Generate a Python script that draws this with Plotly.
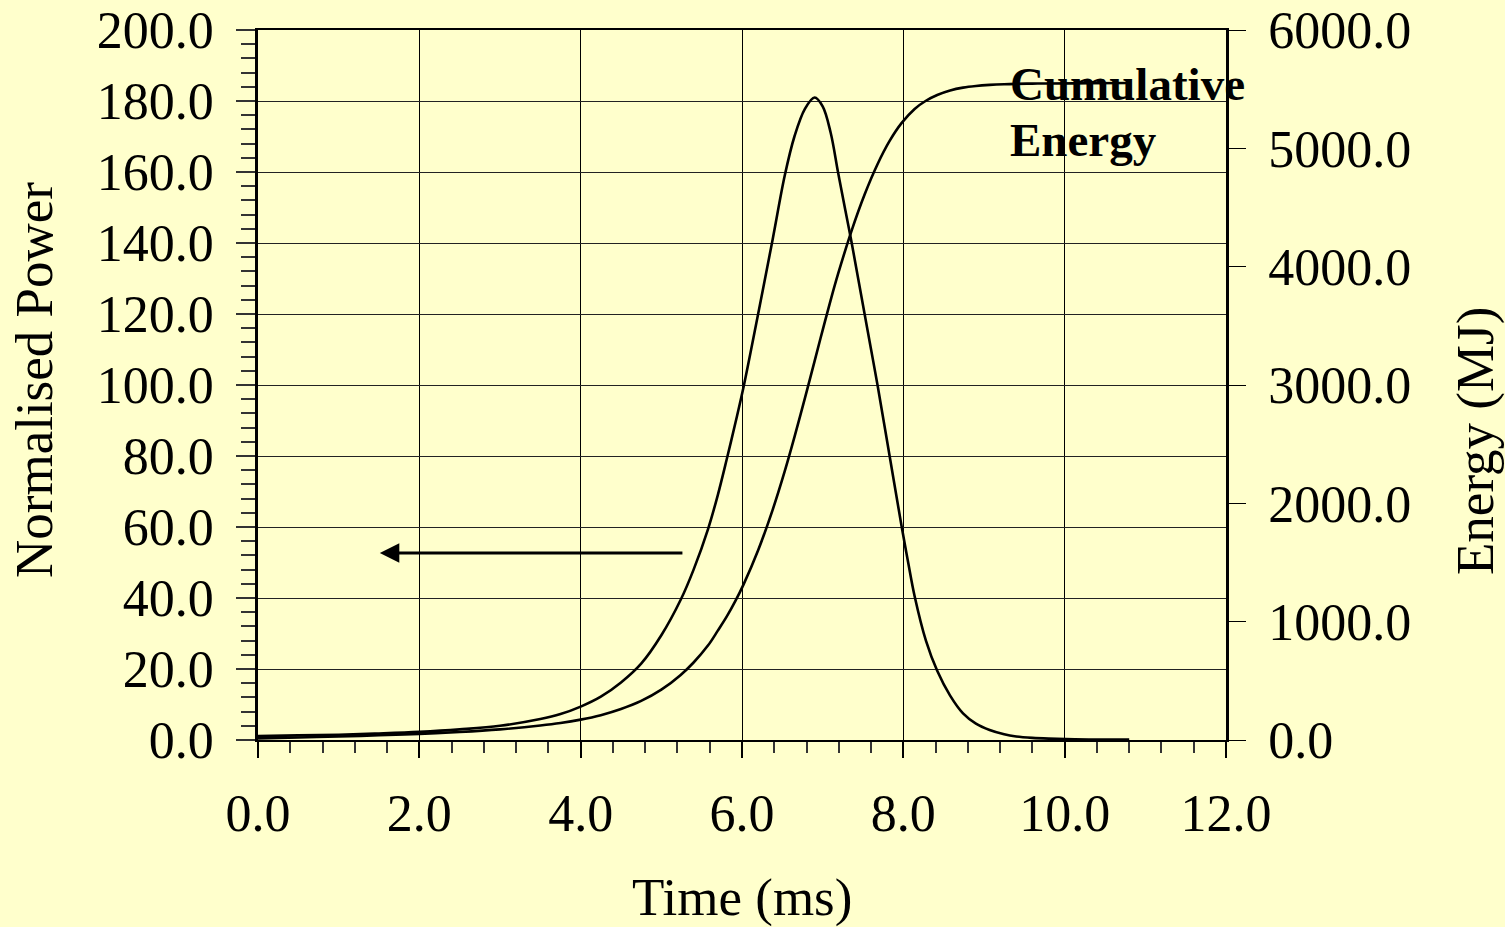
import plotly.graph_objects as go

# ---- data ----
time_power = [0.0, 0.5, 1.0, 1.5, 2.0, 2.5, 3.0, 3.5, 3.75, 4.0, 4.25, 4.5, 4.75, 5.0, 5.24,
              5.4, 5.58, 5.7, 5.81, 5.92, 6.02, 6.2, 6.38, 6.53, 6.65, 6.78, 6.9, 7.0, 7.1,
              7.19, 7.28, 7.36, 7.44, 7.52, 7.6, 7.68, 7.83, 7.98, 8.06, 8.14, 8.28, 8.42,
              8.58, 8.74, 8.9, 9.07, 9.25, 9.4, 9.6, 9.8, 10.3, 10.8]
power = [1.1, 1.3, 1.5, 1.85, 2.3, 3.0, 4.0, 5.9, 7.3, 9.4, 12.2, 16.2, 21.5, 29.5, 39.5,
         48.0, 59.5, 69.0, 79.0, 89.5, 99.5, 120.0, 141.0, 159.0, 170.0, 177.8, 181.0, 178.5, 171.0,
         160.0, 149.4, 140.0, 130.0, 120.0, 110.0, 100.0, 80.0, 60.0, 50.0, 40.5, 28.0, 19.5,
         12.5, 7.5, 4.6, 2.8, 1.6, 1.0, 0.6, 0.4, 0.15, 0.1]

time_energy = [0.0, 0.5, 1.0, 1.5, 2.0, 2.5, 3.0, 3.5, 3.75, 4.0, 4.25, 4.5, 4.75, 5.0, 5.24,
               5.4, 5.58, 5.7, 5.81, 5.92, 6.02, 6.2, 6.38, 6.53, 6.65, 6.78, 6.9, 7.0, 7.1,
               7.19, 7.36, 7.52, 7.68, 7.83, 7.98, 8.14, 8.28, 8.42, 8.58, 8.74, 8.9, 9.07,
               9.25, 9.4, 9.6, 9.8, 10.3, 10.8]
energy = [14, 21, 30, 40, 52, 68, 90, 122, 143, 172, 210, 262, 330, 425, 550,
          655, 800, 924, 1042, 1177, 1315, 1603, 1945, 2272, 2560, 2889, 3202, 3464, 3719,
          3936, 4307, 4610, 4866, 5063, 5215, 5333, 5402, 5451, 5489, 5513, 5527, 5536,
          5542, 5545, 5547, 5548, 5550, 5552]

x_ticks = [0, 2, 4, 6, 8, 10, 12]
y_ticks = [0, 20, 40, 60, 80, 100, 120, 140, 160, 180, 200]
y2_ticks = [0, 1000, 2000, 3000, 4000, 5000, 6000]

BG = "#FFFFCC"
FONT = "Liberation Serif"
FS = 52

fig = go.Figure()
fig.add_trace(go.Scatter(x=time_power, y=power, mode="lines", yaxis="y",
                         line=dict(color="black", width=2.6, shape="spline", smoothing=1.0),
                         name="Normalised Power", showlegend=False))
fig.add_trace(go.Scatter(x=time_energy, y=energy, mode="lines", yaxis="y2",
                         line=dict(color="black", width=2.6, shape="spline", smoothing=1.0),
                         name="Cumulative Energy", showlegend=False))

fig.update_layout(
    width=1505, height=927,
    margin=dict(l=258, r=279, t=30, b=187, autoexpand=False),
    paper_bgcolor=BG, plot_bgcolor=BG,
    showlegend=False,
    font=dict(family=FONT, size=FS, color="black"),
    xaxis=dict(range=[0, 12], tickvals=x_ticks, tickformat=".1f", automargin=False,
               showgrid=True, gridcolor="black", gridwidth=1,
               showline=True, linecolor="black", linewidth=2, mirror=True,
               ticks="outside", ticklen=16, tickwidth=1.5, tickcolor="black",
               minor=dict(dtick=0.4, ticks="outside", ticklen=11, tickwidth=1.5,
                          tickcolor="#333", showgrid=False),
               ticklabelstandoff=11, zeroline=False,
               tickfont=dict(family=FONT, size=FS, color="black")),
    yaxis=dict(range=[0, 200], tickvals=y_ticks, tickformat=".1f", automargin=False,
               showgrid=True, gridcolor="#222", gridwidth=1,
               showline=True, linecolor="black", linewidth=2.5,
               ticks="outside", ticklen=19, tickwidth=1.5, tickcolor="#333",
               minor=dict(dtick=4, ticks="outside", ticklen=14, tickwidth=1.5,
                          tickcolor="#333", showgrid=False),
               ticklabelstandoff=12, zeroline=False,
               tickfont=dict(family=FONT, size=FS, color="black")),
    yaxis2=dict(range=[0, 6000], tickvals=y2_ticks, tickformat=".1f", automargin=False,
                overlaying="y", side="right", showgrid=False,
                showline=True, linecolor="black", linewidth=2.5,
                ticks="outside", ticklen=17, tickwidth=1.2, tickcolor="black",
                ticklabelstandoff=12, zeroline=False,
                tickfont=dict(family=FONT, size=FS, color="black")),
    yaxis3=dict(range=[0, 6000], tickvals=y2_ticks, overlaying="y", side="right",
                automargin=False,
                showgrid=False, showline=False, showticklabels=False,
                ticks="inside", ticklen=17, tickwidth=1.2, tickcolor="black",
                zeroline=False),
)

annotations = [
    dict(text="Normalised Power", xref="paper", yref="paper", x=(34 - 258) / 968,
         y=(740 - 380) / 710, xanchor="center", yanchor="middle", textangle=-90,
         showarrow=False, font=dict(family=FONT, size=53, color="black")),
    dict(text="Energy (MJ)", xref="paper", yref="paper", x=(1475 - 258) / 968,
         y=(740 - 441) / 710, xanchor="center", yanchor="middle", textangle=-90,
         showarrow=False, font=dict(family=FONT, size=53, color="black")),
    dict(text="Time (ms)", xref="paper", yref="paper", x=0.5, y=(740 - 897) / 710,
         xanchor="center", yanchor="middle", showarrow=False,
         font=dict(family=FONT, size=53, color="black")),
    dict(text="<b>Cumulative</b>", xref="paper", yref="paper", x=(1008 - 258) / 968,
         y=(740 - 84) / 710, xanchor="left", yanchor="middle", showarrow=False,
         font=dict(family=FONT, size=47, color="black")),
    dict(text="<b>Energy</b>", xref="paper", yref="paper", x=(1008 - 258) / 968,
         y=(740 - 140) / 710, xanchor="left", yanchor="middle", showarrow=False,
         font=dict(family=FONT, size=47, color="black")),
    dict(text="", xref="x", yref="y", x=1.51, y=52.7, axref="x", ayref="y",
         ax=5.28, ay=52.7, showarrow=True, arrowhead=2, arrowsize=1.3,
         arrowwidth=3, arrowcolor="black"),
]
fig.update_layout(annotations=annotations)

fig.write_html("out.html")
